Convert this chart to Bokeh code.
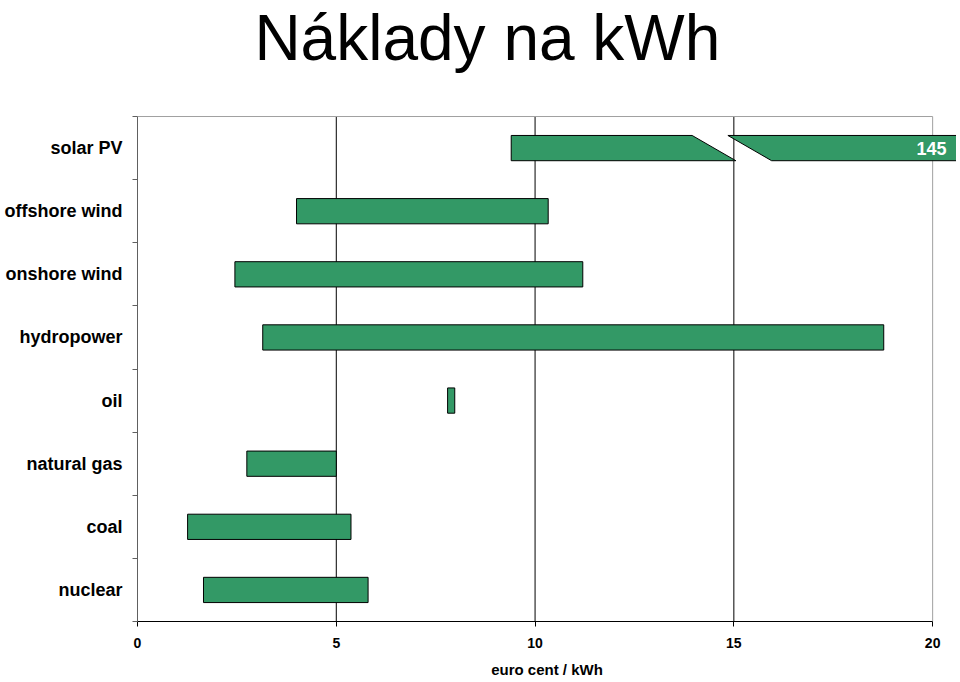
from bokeh.plotting import figure
from bokeh.models import Range1d, LinearAxis, FixedTicker, Grid
from bokeh.embed import file_html
from bokeh.resources import INLINE
from bokeh.core.properties import value

title_text = "Náklady na kWh"
x_label = "euro cent / kWh"
categories = ["solar PV", "offshore wind", "onshore wind", "hydropower",
              "oil", "natural gas", "coal", "nuclear"]
low_values = [9.4, 4.0, 2.45, 3.15, 7.8, 2.75, 1.26, 1.66]
high_values = [145, 10.33, 11.2, 18.77, 7.98, 5.0, 5.37, 5.8]
x_ticks = [0, 5, 10, 15, 20]
grid_values = [5, 10, 15]
axis_max = 20
# broken-bar geometry for the off-scale solar PV value
break_start = 13.95
break_slant = 1.1
break_gap = 0.9

FONT = "Liberation Sans"
GREEN = "#339966"

n = len(categories)
ypos = [n - i - 0.5 for i in range(n)]
bar_h = 0.4
y_top = 9.838   # space above the categories holds the title

p = figure(width=956, height=680, output_backend="svg", toolbar_location=None,
           x_range=Range1d(0, 20.6), y_range=Range1d(0, y_top),
           min_border_left=137, min_border_right=0, min_border_top=0,
           min_border_bottom=59, x_axis_location=None, y_axis_location=None)
p.center = [r for r in p.center if not isinstance(r, Grid)]
p.outline_line_color = None
p.background_fill_color = "white"
p.border_fill_color = "white"

# axes
xaxis = LinearAxis(ticker=FixedTicker(ticks=x_ticks), bounds=(0, axis_max),
                   axis_label=x_label)
xaxis.axis_line_color = "black"
xaxis.major_tick_line_color = "black"
xaxis.major_tick_out = 5
xaxis.major_tick_in = 0
xaxis.minor_tick_line_color = None
xaxis.major_label_standoff = 11
xaxis.major_label_text_font = FONT
xaxis.major_label_text_font_style = "bold"
xaxis.major_label_text_font_size = "14px"
xaxis.major_label_text_color = "black"
xaxis.axis_label_standoff = 10
xaxis.axis_label_text_font = FONT
xaxis.axis_label_text_font_style = "bold"
xaxis.axis_label_text_font_size = "15px"
xaxis.axis_label_text_color = "black"
p.add_layout(xaxis, "below")

yaxis = LinearAxis(ticker=FixedTicker(ticks=ypos, minor_ticks=list(range(n + 1))),
                   bounds=(0, n),
                   major_label_overrides={y: c for y, c in zip(ypos, categories)})
yaxis.axis_line_color = "#606060"
yaxis.major_tick_line_color = None
yaxis.major_tick_out = 0
yaxis.major_tick_in = 0
yaxis.minor_tick_line_color = "#606060"
yaxis.minor_tick_out = 5
yaxis.minor_tick_in = 0
yaxis.major_label_standoff = 10
yaxis.major_label_text_font = FONT
yaxis.major_label_text_font_style = "bold"
yaxis.major_label_text_font_size = "18px"
yaxis.major_label_text_color = "black"
p.add_layout(yaxis, "left")

# vertical gridlines and plot-area border
p.segment(x0=grid_values, y0=[0] * len(grid_values), x1=grid_values,
          y1=[n] * len(grid_values), line_color="black", line_width=1)
p.segment(x0=[0, axis_max], y0=[n, 0], x1=[axis_max, axis_max], y1=[n, n],
          line_color="#a0a0a0", line_width=1)

# normal bars
p.hbar(y=ypos[1:], left=low_values[1:], right=high_values[1:], height=bar_h,
       fill_color=GREEN, line_color="black", line_width=1)

# broken solar PV bar
y0 = ypos[0]
top, bot = y0 + bar_h / 2, y0 - bar_h / 2
left_xs = [low_values[0], break_start, break_start + break_slant, low_values[0]]
right_xs = [break_start + break_gap, high_values[0], high_values[0],
            break_start + break_gap + break_slant]
p.patches(xs=[left_xs, right_xs], ys=[[top, top, bot, bot], [top, top, bot, bot]],
          fill_color=GREEN, line_color="black", line_width=1)
p.text(x=[20.35], y=[y0], text=[str(high_values[0])], text_color="white",
       text_font=value(FONT), text_font_style="bold", text_font_size="18px",
       text_align="right", text_baseline="middle")

# title
p.text(x=[8.8], y=[9.81], text=[title_text], text_color="black",
       text_font=value(FONT), text_font_size="64px",
       text_align="center", text_baseline="top")

open("out.html", "w").write(file_html(p, INLINE))
